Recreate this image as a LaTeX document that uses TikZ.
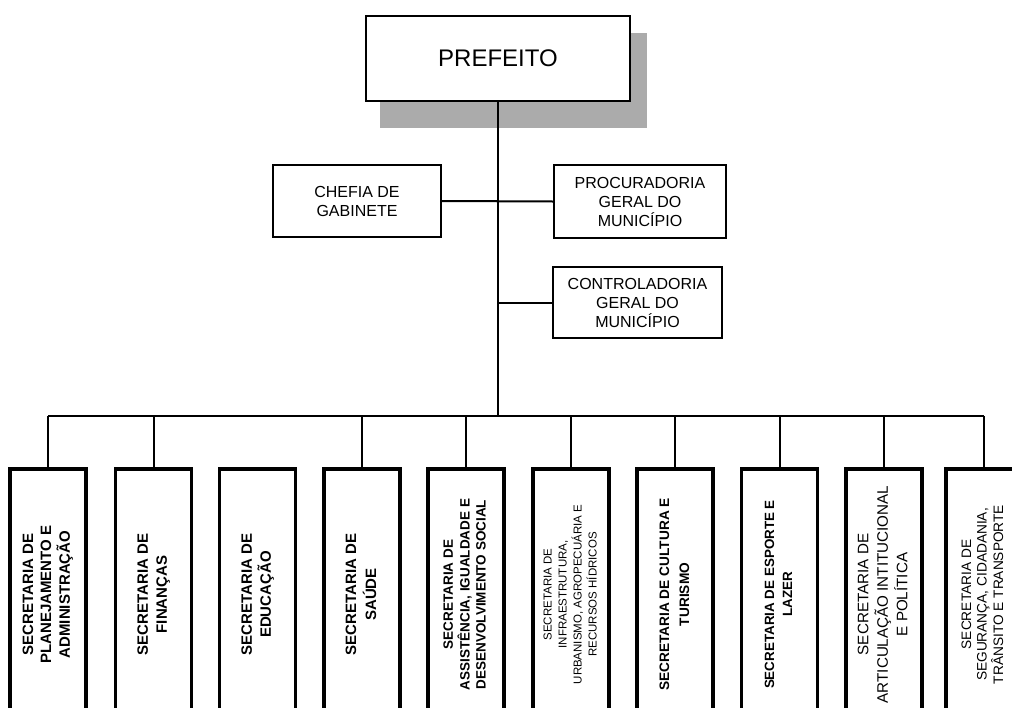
\documentclass[tikz,border=0pt]{standalone}
\usepackage{fontspec}
\setmainfont{Liberation Sans}
\usepackage{graphicx}
\newcommand{\secrot}[2]{\rotatebox{90}{#1\begin{tabular}{@{}c@{}}#2\end{tabular}}}
\begin{document}
\begin{tikzpicture}[x=1pt,y=-1pt,
  topbox/.style={draw=black, line width=2.4pt, fill=white, align=center, inner sep=0pt, font=\fontsize{16}{19}\selectfont},
  secbox/.style={draw=black, line width=3.6pt, fill=white, inner sep=0pt, minimum width=76pt, minimum height=251pt},
  conn/.style={draw=black, line width=2pt},
  shadowfill/.style={fill=black!33}]
\useasboundingbox (0,0) rectangle (1012,707);
\clip (0,0) rectangle (1012,707);

% shadow of the top box
\fill[shadowfill] (380,33) rectangle (647,128);

% top level
\node[topbox, minimum width=264pt, minimum height=85pt, font=\fontsize{24}{28}\selectfont] (prefeito) at (498,58.5) {PREFEITO};
\node[topbox, minimum width=168pt, minimum height=72pt] (chefia) at (357,201) {CHEFIA DE\\GABINETE};
\node[topbox, minimum width=172pt, minimum height=73pt] (procuradoria) at (640,201.5) {PROCURADORIA\\GERAL DO\\MUNICÍPIO};
\node[topbox, minimum width=169pt, minimum height=71pt] (controladoria) at (637.5,302.5) {CONTROLADORIA\\GERAL DO\\MUNICÍPIO};

% secretarias
\node[secbox] (b1) at (48,594.5) {\secrot{\fontsize{15}{18}\selectfont\bfseries}{SECRETARIA DE\\PLANEJAMENTO E\\ADMINISTRAÇÃO}};
\node[secbox] (b2) at (153.5,594.5) {\secrot{\fontsize{15}{19}\selectfont\bfseries}{SECRETARIA DE\\FINANÇAS}};
\node[secbox] (b3) at (257.5,594.5) {\secrot{\fontsize{15}{19}\selectfont\bfseries}{SECRETARIA DE\\EDUCAÇÃO}};
\node[secbox] (b4) at (362,594.5) {\secrot{\fontsize{15}{20}\selectfont\bfseries}{SECRETARIA DE\\SAÚDE}};
\node[secbox] (b5) at (466,594.5) {\secrot{\fontsize{13.5}{16}\selectfont\bfseries}{SECRETARIA DE\\ASSISTÊNCIA, IGUALDADE E\\DESENVOLVIMENTO SOCIAL}};
\node[secbox] (b6) at (571,594.5) {\secrot{\fontsize{11.5}{15}\selectfont}{SECRETARIA DE\\INFRAESTRUTURA,\\URBANISMO, AGROPECUÁRIA E\\RECURSOS HÍDRICOS}};
\node[secbox] (b7) at (675,594.5) {\secrot{\fontsize{13.7}{20}\selectfont\bfseries}{SECRETARIA DE CULTURA E\\TURISMO}};
\node[secbox] (b8) at (779.5,594.5) {\secrot{\fontsize{13.4}{18}\selectfont\bfseries}{SECRETARIA DE ESPORTE E\\LAZER}};
\node[secbox] (b9) at (884,594.5) {\secrot{\fontsize{15.2}{19.5}\selectfont}{SECRETARIA DE\\ARTICULAÇÃO INTITUCIONAL\\E POLÍTICA}};
\node[secbox] (b10) at (984,594.5) {\secrot{\fontsize{13.7}{15.5}\selectfont}{SECRETARIA DE\\SEGURANÇA, CIDADANIA,\\TRÂNSITO E TRANSPORTE}};

% connectors
\coordinate (bus) at (498,416);
\draw[conn] (prefeito.south) -- (bus);
\draw[conn] (chefia.east) -- (procuradoria.west);
\draw[conn] (controladoria.west) -- (controladoria.west -| prefeito.south);
\draw[conn] (b1.north |- bus) -- (b10.north |- bus);
\foreach \b in {b1,b2,b4,b5,b6,b7,b8,b9,b10}{
  \draw[conn] (\b.north) -- (\b.north |- bus);
}
\end{tikzpicture}
\end{document}
